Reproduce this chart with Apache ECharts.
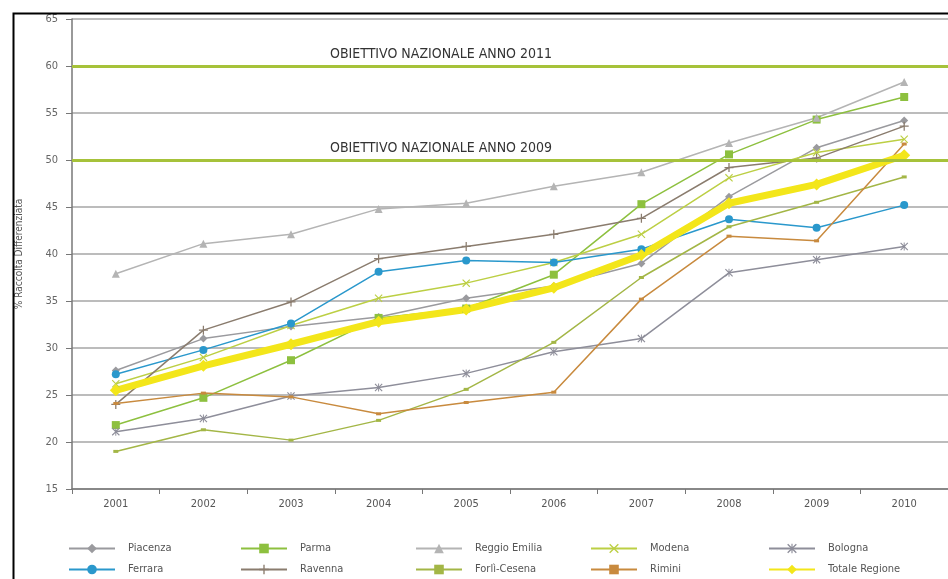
<!DOCTYPE html>
<html>
<head>
<meta charset="utf-8">
<script src="https://cdn.jsdelivr.net/npm/echarts@6/dist/echarts.min.js"></script>
<style>
  html, body { margin: 0; padding: 0; background: #fff; }
  #chart { width: 948px; height: 579px; }
</style>
</head>
<body>
<div id="chart"></div>
<script>
// anni
var years = ["2001", "2002", "2003", "2004", "2005", "2006", "2007", "2008", "2009", "2010"];

// % raccolta differenziata per provincia
var piacenza    = [27.6, 31.0, 32.3, 33.3, 35.3, 36.6, 39.0, 46.1, 51.3, 54.2];
var parma       = [21.8, 24.7, 28.7, 33.2, 34.2, 37.8, 45.3, 50.6, 54.3, 56.7];
var reggio      = [37.9, 41.1, 42.1, 44.8, 45.4, 47.2, 48.7, 51.8, 54.5, 58.3];
var modena      = [26.2, 29.0, 32.4, 35.3, 36.9, 39.1, 42.1, 48.1, 50.8, 52.2];
var bologna     = [21.1, 22.5, 24.9, 25.8, 27.3, 29.6, 31.0, 38.0, 39.4, 40.8];
var ferrara     = [27.2, 29.8, 32.6, 38.1, 39.3, 39.1, 40.5, 43.7, 42.8, 45.2];
var ravenna     = [24.0, 31.9, 34.9, 39.5, 40.8, 42.1, 43.8, 49.2, 50.2, 53.6];
var forli       = [19.0, 21.3, 20.2, 22.3, 25.6, 30.6, 37.5, 42.9, 45.5, 48.2];
var rimini      = [24.1, 25.2, 24.8, 23.0, 24.2, 25.3, 35.2, 41.9, 41.4, 51.7];
var totale      = [25.5, 28.1, 30.4, 32.8, 34.1, 36.4, 39.9, 45.4, 47.4, 50.5];

// obiettivi nazionali
var obiettivi = [
  { value: 60, label: "OBIETTIVO NAZIONALE ANNO 2011" },
  { value: 50, label: "OBIETTIVO NAZIONALE ANNO 2009" }
];

var symX = "path://M1,0L5,4L9,0L10,1L6,5L10,9L9,10L5,6L1,10L0,9L4,5L0,1Z";
var symPlus = "path://M4.3,0H5.7V4.3H10V5.7H5.7V10H4.3V5.7H0V4.3H4.3Z";
var symStar = "path://M1,0L5,4L9,0L10,1L6,5L10,9L9,10L5,6L1,10L0,9L4,5L0,1Z M4.4,0H5.6V10H4.4Z";

var chart = echarts.init(document.getElementById("chart"));
var font = "'DejaVu Sans Condensed', 'Liberation Sans Narrow', sans-serif";

function serie(name, data, color, symbol, size, width) {
  return {
    name: name,
    type: "line",
    data: data,
    symbol: symbol,
    symbolSize: size,
    showAllSymbol: true,
    lineStyle: { color: color, width: width || 1.5 },
    itemStyle: { color: color },
    emphasis: { disabled: true },
    animation: false,
    z: 3
  };
}

var series = [
  serie("Piacenza", piacenza, "#9a9a9e", "diamond", 8),
  serie("Parma", parma, "#8dc03f", "rect", 8),
  serie("Reggio Emilia", reggio, "#b4b4b4", "triangle", 8),
  serie("Modena", modena, "#bccf44", symX, 8),
  serie("Bologna", bologna, "#8e8e9a", symStar, 8),
  serie("Ferrara", ferrara, "#2a98cc", "circle", 8),
  serie("Ravenna", ravenna, "#8a7c6e", symPlus, 9),
  serie("Forlì-Cesena", forli, "#a3b646", "rect", [5, 3]),
  serie("Rimini", rimini, "#c88a3e", "rect", [5, 3]),
  serie("Totale Regione", totale, "#f3e61a", "diamond", 12, 7)
];

// linee obiettivo
series[0].markLine = {
  silent: true,
  symbol: "none",
  animation: false,
  lineStyle: { color: "#a6c23a", width: 3, type: "solid" },
  label: {
    show: true,
    position: "insideStartTop",
    distance: [258, 5],
    color: "#333",
    fontFamily: font,
    fontSize: 14
  },
  data: obiettivi.map(function (o) {
    return { yAxis: o.value, label: { formatter: o.label } };
  })
};

var cols = [
  ["Piacenza", "Ferrara"],
  ["Parma", "Ravenna"],
  ["Reggio Emilia", "Forlì-Cesena"],
  ["Modena", "Rimini"],
  ["Bologna", "Totale Regione"]
];
var colLeft = [68, 240, 415, 590, 768];

var legends = cols.map(function (names, i) {
  return {
    data: names,
    orient: "vertical",
    left: colLeft[i],
    top: 543,
    height: 36,
    padding: 0,
    itemWidth: 46,
    itemHeight: 12,
    itemGap: 10,
    selectedMode: false,
    textStyle: { color: "#555", fontSize: 11, fontFamily: font, padding: [0, 0, 0, 8] }
  };
});

option = {
  backgroundColor: "#fff",
  animation: false,
  grid: { left: 72, top: 19, width: 890, height: 470, containLabel: false },
  legend: legends,
  tooltip: { show: false },
  xAxis: {
    type: "category",
    data: years,
    boundaryGap: true,
    axisLine: { lineStyle: { color: "#777", width: 1.5 } },
    axisTick: { show: true, length: 5, inside: false, lineStyle: { color: "#777" } },
    axisLabel: { color: "#555", fontSize: 11, fontFamily: font, margin: 10 },
    splitLine: { show: false }
  },
  yAxis: {
    type: "value",
    min: 15,
    max: 65,
    interval: 5,
    name: "% Raccolta Differenziata",
    nameLocation: "middle",
    nameGap: 48,
    nameTextStyle: { color: "#555", fontSize: 10, fontFamily: font },
    axisLine: { show: true, lineStyle: { color: "#777", width: 1.5 } },
    axisTick: { show: true, length: 6, lineStyle: { color: "#777" } },
    axisLabel: { color: "#666", fontSize: 11, fontFamily: font, margin: 14 },
    splitLine: { show: true, lineStyle: { color: "#bcbcbc", width: 2 } }
  },
  graphic: [
    {
      type: "rect",
      left: 11,
      top: 11,
      shape: { width: 1000, height: 1000 },
      style: { fill: "none", stroke: "#000", lineWidth: 2 },
      silent: true,
      z: 100
    }
  ],
  series: series
};

chart.setOption(option);
</script>
</body>
</html>
